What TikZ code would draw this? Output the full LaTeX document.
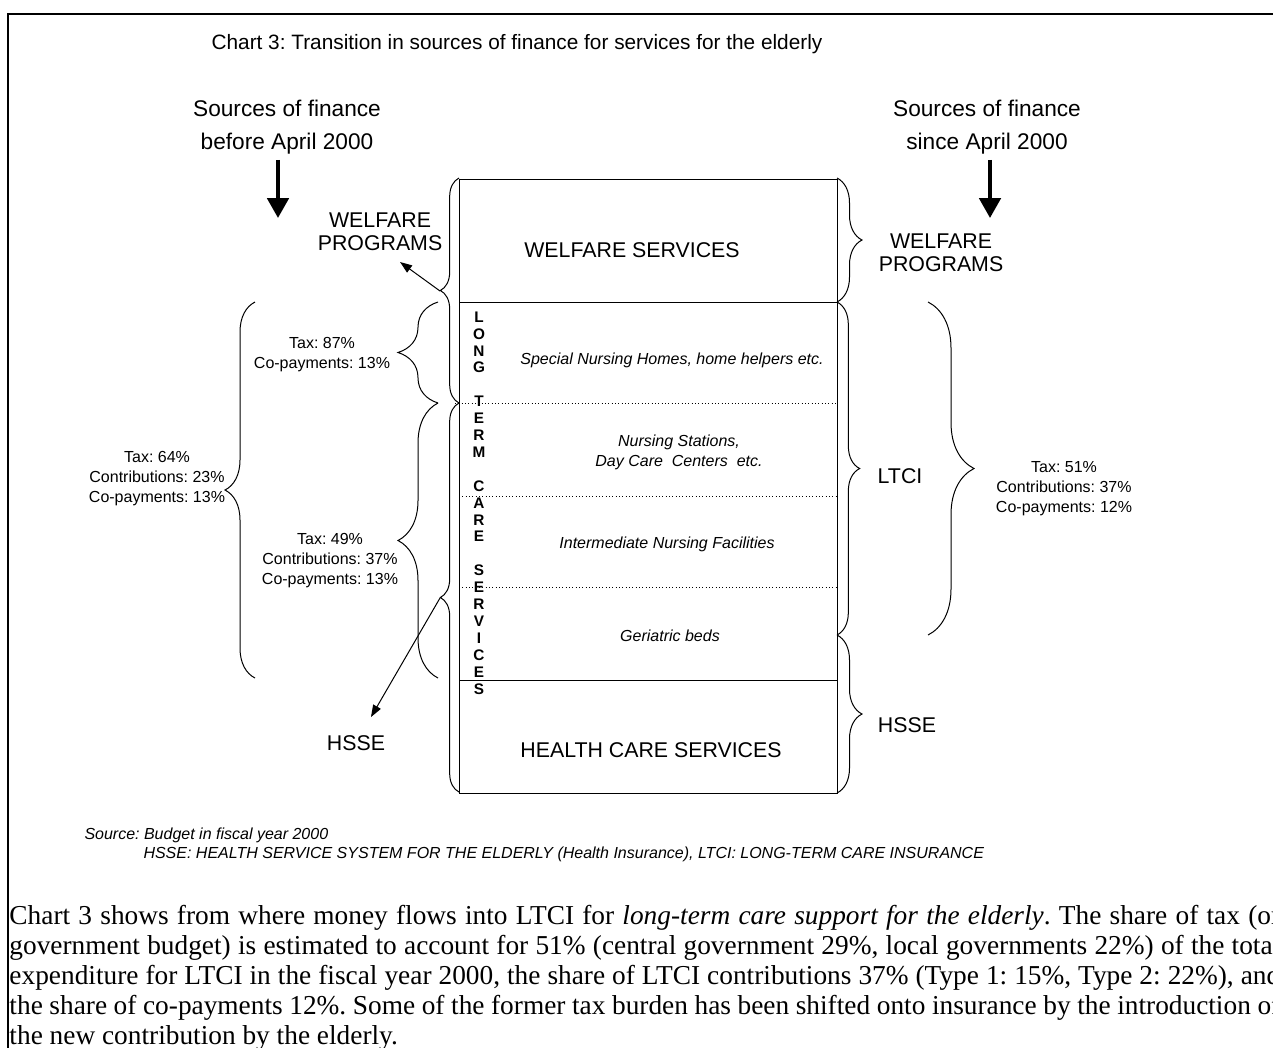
\documentclass[tikz,border=0pt]{standalone}
\usepackage{fontspec}
\setmainfont{Liberation Serif}
\setsansfont{Liberation Sans}
\usetikzlibrary{arrows.meta}
\usetikzlibrary{positioning}
\usetikzlibrary{decorations.pathreplacing}
\frenchspacing

\tikzset{
  every node/.style={inner sep=0pt},
  ttltxt/.style={font=\sffamily\fontsize{15.6}{18}\selectfont},
  headtxt/.style={font=\sffamily\fontsize{17}{24.75}\selectfont, align=center},
  capstxt/.style={font=\sffamily\fontsize{16}{17.5}\selectfont, align=center},
  sharetxt/.style={font=\sffamily\fontsize{12}{15}\selectfont, align=center},
  kindtxt/.style={font=\sffamily\itshape\fontsize{12}{15}\selectfont, align=center},
  vlet/.style={font=\sffamily\bfseries\fontsize{11.5}{11.5}\selectfont},
  notetxt/.style={font=\sffamily\itshape\fontsize{12}{12}\selectfont},
  bodytxt/.style={font=\rmfamily\fontsize{20.5}{22.5}\selectfont, text width=953pt, align=justify},
  curly/.style={decorate, decoration={brace, amplitude=#1}},
  bigarrow/.style={line width=3pt, -{Triangle[length=15pt,width=16pt]}},
  thinarrow/.style={-{Triangle[length=9pt,width=6.5pt]}},
}

\begin{document}
\begin{tikzpicture}[x=0.75pt, y=-0.75pt, line width=0.75pt]
  \useasboundingbox (0,0) rectangle (1273,1047);
  \clip (0,0) rectangle (1273,1047);
  \draw[line width=1.2pt] (8,1060) -- (8,14) -- (1290,14) -- (1290,1060);

  \node[ttltxt] (title) at (517,44) {Chart 3: Transition in sources of finance for services for the elderly};
  \node[headtxt] (srcL) at (287,127) {Sources of finance\\before April 2000};
  \node[headtxt] (srcR) at (987,127) {Sources of finance\\ since April 2000};
  \coordinate (aLe) at (278,218);
  \coordinate (aRe) at (990,218);
  \draw[bigarrow, shorten <=4pt] (aLe |- srcL.south) -- (aLe);
  \draw[bigarrow, shorten <=4pt] (aRe |- srcR.south) -- (aRe);

  % the column of services
  \draw (459,179) rectangle (837,793);
  \draw (459,302) -- (837,302);
  \draw (459,680) -- (837,680);
  \draw[dotted, line width=0.5pt] (455,403) -- (837,403);
  \draw[dotted, line width=0.5pt] (459,496) -- (837,496);
  \draw[dotted, line width=0.5pt] (459,587) -- (837,587);
  \node[capstxt] (wsv) at (632,250) {WELFARE SERVICES};
  \node[kindtxt] (snh) at (672,360) {Special Nursing Homes, home helpers etc.};
  \node[kindtxt] (nst) at (679,452) {Nursing Stations,\\ Day Care\ \ Centers\ \ etc.};
  \node[kindtxt] (inf) at (667,544) {Intermediate Nursing Facilities};
  \node[kindtxt] (ger) at (670,636) {Geriatric beds};
  \node[capstxt] (hcs) at (651,750) {HEALTH CARE SERVICES};
  \foreach \ch [count=\i] in {L,O,N,G,,T,E,R,M,,C,A,R,E,,S,E,R,V,I,C,E,S}
    \node[vlet] (lt\i) at (479,{317+16.9*(\i-1)}) {\ch};

  % before April 2000
  \draw[curly=14pt] (459,403) -- (459,178);
  \draw[curly=14pt] (459,792) -- (459,403);
  \coordinate (wpTip) at (440,291);
  \coordinate (hsTip) at (440,598);
  \node[capstxt] (wpL) at (380,232) {WELFARE\\PROGRAMS};
  \node[capstxt] (hsseL) at (356,743) {HSSE};
  \coordinate (wpEnd) at (400,262);
  \coordinate (hsEnd) at (371,717);
  \draw[thinarrow] (wpTip) -- (wpEnd);
  \draw[thinarrow] (hsTip) -- (hsEnd);
  \draw[curly=30pt] (438,403) -- (438,302);
  \draw[curly=30pt] (438,678) -- (438,403);
  \draw[curly=22.5pt] (255,678) -- (255,302);
  \node[sharetxt] (t87) at (322,355) {Tax: 87\%\\Co-payments: 13\%};
  \node[sharetxt] (t49) at (330,561) {Tax: 49\%\\Contributions: 37\%\\Co-payments: 13\%};
  \node[sharetxt] (t64) at (157,479) {Tax: 64\%\\Contributions: 23\%\\Co-payments: 13\%};

  % since April 2000
  \draw[curly=18.75pt] (837,178) -- (837,302);
  \draw[curly=17pt] (837,302) -- (837,635);
  \draw[curly=18.75pt] (837,635) -- (837,793);
  \draw[curly=34.5pt] (928,302) -- (928,635);
  \node[capstxt] (wpR) at (941,253) {WELFARE\\PROGRAMS};
  \node[capstxt] (ltci) at (900,476) {LTCI};
  \node[capstxt] (hsseR) at (907,725) {HSSE};
  \node[sharetxt] (t51) at (1064,489) {Tax: 51\%\\Contributions: 37\%\\Co-payments: 12\%};

  \node[notetxt, anchor=base west] (src) at (84,839) {Source: Budget in fiscal year 2000};
  \node[notetxt, anchor=base west] (abbr) at (143,858) {HSSE: HEALTH SERVICE SYSTEM FOR THE ELDERLY (Health Insurance), LTCI: LONG-TERM CARE INSURANCE};

  \node[bodytxt, anchor=north west] (txt) at (9,905) {\tolerance=9999\emergencystretch=20pt
    Chart 3 shows from where money flows into LTCI for \textit{long-term care support for the elderly}. The share of tax (or\linebreak
    government budget) is estimated to account for 51\% (central government 29\%, local governments 22\%) of the total\linebreak
    expenditure for LTCI in the fiscal year 2000, the share of LTCI contributions 37\% (Type 1: 15\%, Type 2: 22\%), and\linebreak
    the share of co-payments 12\%. Some of the former tax burden has been shifted onto insurance by the introduction of\linebreak
    the new contribution by the elderly.};
\end{tikzpicture}
\end{document}
